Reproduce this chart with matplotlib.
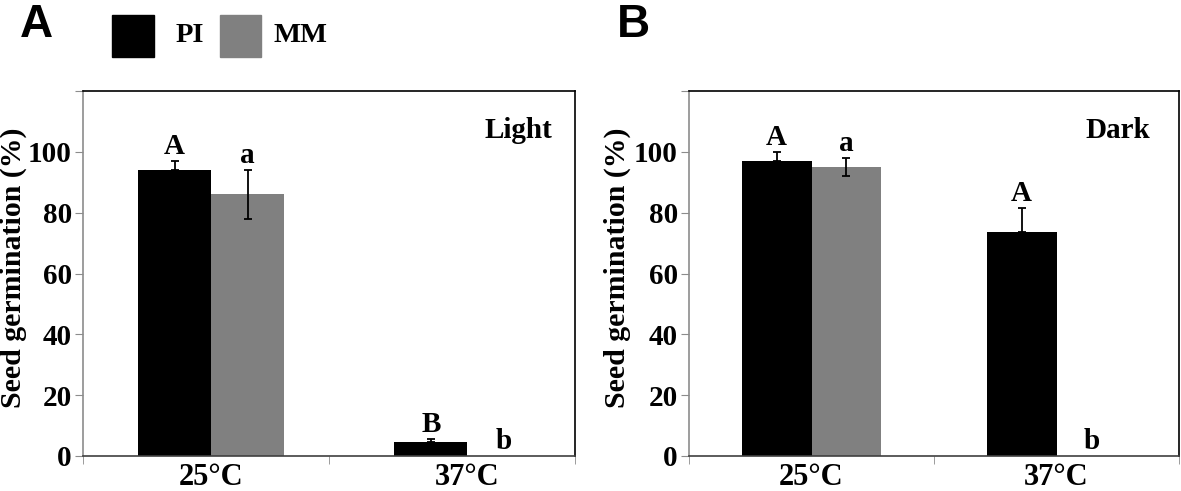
import matplotlib
matplotlib.use("Agg")
import matplotlib.pyplot as plt
import numpy as np
from matplotlib.patches import Rectangle

categories = ["25°C", "37°C"]
series_names = ["PI", "MM"]

# Panel A (Light)
light_pi = [94, 4.6]
light_pi_err = [3, 1]
light_mm = [86, 0]
light_mm_err = [8, 0]
light_pi_letters = ["A", "B"]
light_mm_letters = ["a", "b"]

# Panel B (Dark)
dark_pi = [97, 73.5]
dark_pi_err = [3, 8]
dark_mm = [95, 0]
dark_mm_err = [3, 0]
dark_pi_letters = ["A", "A"]
dark_mm_letters = ["a", "b"]

yticks = [0, 20, 40, 60, 80, 100, 120]
ytick_labels = ["0", "20", "40", "60", "80", "100", ""]

SERIF = "Liberation Serif"
SANS = "Liberation Sans"
BLACK = "#000000"
GREY = "#808080"
AXGREY = "#8c8c8c"

W, H = 1181, 491
fig = plt.figure(figsize=(W / 100, H / 100), dpi=100)

def panel(rect, pi, pi_err, mm, mm_err, pi_lab, mm_lab, cond, xlim, bw, cond_x, label_off, ylab_x):
    ax = fig.add_axes(rect)
    x = np.arange(len(categories))
    ax.bar(x - bw / 2, pi, bw, color=BLACK, zorder=2)
    ax.bar(x + bw / 2, mm, bw, color=GREY, zorder=2)
    for xi, v, e in zip(x - bw / 2, pi, pi_err):
        if e > 0:
            ax.errorbar(xi, v, yerr=[[0], [e]], color="black", capsize=3, elinewidth=1.3, capthick=1.3, zorder=3)
    for xi, v, e in zip(x + bw / 2, mm, mm_err):
        if e > 0:
            ax.errorbar(xi, v, yerr=[[e], [e]], color="black", capsize=3, elinewidth=1.3, capthick=1.3, zorder=3)
    for xi, v, e, t in zip(x - bw / 2, pi, pi_err, pi_lab):
        ax.text(xi, v + e + label_off, t, ha="center", va="baseline", family=SERIF, fontweight="bold", fontsize=21)
    for xi, v, e, t in zip(x + bw / 2, mm, mm_err, mm_lab):
        ax.text(xi, v + e + label_off, t, ha="center", va="baseline", family=SERIF, fontweight="bold", fontsize=21)
    ax.text(cond_x, 107, cond, ha="center", va="center", family=SERIF, fontweight="bold", fontsize=21)
    ax.set_xlim(*xlim)
    ax.set_ylim(0, 120)
    ax.set_yticks(yticks)
    ax.set_yticklabels(ytick_labels, family=SERIF, fontweight="bold", fontsize=21)
    ax.set_xticks(x)
    ax.set_xticklabels(categories, family=SERIF, fontweight="bold", fontsize=22)
    ax.tick_params(axis="x", length=0, pad=5)
    ax.set_xticks([xlim[0], (xlim[0] + xlim[1]) / 2, xlim[1]], minor=True)
    ax.tick_params(axis="x", which="minor", length=6, color=AXGREY, direction="out")
    ax.tick_params(axis="y", length=6, color=AXGREY, direction="out", pad=2)
    ax.spines["left"].set_color(AXGREY)
    ax.spines["bottom"].set_color("#404040")
    ax.spines["top"].set_color("black")
    ax.spines["right"].set_color("black")
    for s in ax.spines.values():
        s.set_linewidth(1.2)
    fig.text(ylab_x / W, 1 - 268 / H, "Seed germination (%)", rotation=90, ha="center", va="center",
             family=SERIF, fontweight="bold", fontsize=21.5)
    return ax

axA = panel([83 / W, 1 - 456 / H, 492 / W, 365 / H],
            light_pi, light_pi_err, light_mm, light_mm_err,
            light_pi_letters, light_mm_letters, "Light", (-0.5, 1.42), 0.285, 1.2, 2.3, 13)
axB = panel([689 / W, 1 - 456 / H, 490 / W, 365 / H],
            dark_pi, dark_pi_err, dark_mm, dark_mm_err,
            dark_pi_letters, dark_mm_letters, "Dark", (-0.5, 1.5), 0.285, 1.25, 2.3, 617)

# Panel letters
fig.text(20 / W, 1 - 37 / H, "A", family=SANS, fontweight="bold", fontsize=33, ha="left", va="baseline")
fig.text(617 / W, 1 - 37 / H, "B", family=SANS, fontweight="bold", fontsize=33, ha="left", va="baseline")

# Legend (manual)
fig.patches.append(Rectangle((112 / W, 1 - 57 / H), 42 / W, 42 / H, transform=fig.transFigure, color=BLACK, figure=fig))
fig.patches.append(Rectangle((220 / W, 1 - 57 / H), 41 / W, 42 / H, transform=fig.transFigure, color=GREY, figure=fig))
fig.text(176 / W, 1 - 36 / H, series_names[0], family=SERIF, fontweight="bold", fontsize=20.5, ha="left", va="center")
fig.text(273 / W, 1 - 36 / H, series_names[1], family=SERIF, fontweight="bold", fontsize=20.5, ha="left", va="center")

fig.savefig("out.png", dpi=100)
